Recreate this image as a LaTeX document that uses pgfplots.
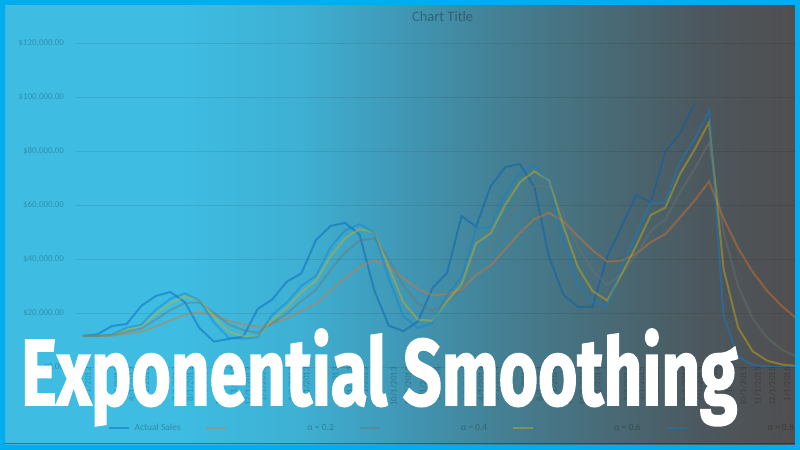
\documentclass[border=0pt]{standalone}
\usepackage{fontspec}
\setmainfont{Carlito}
\newfontfamily\bigfont{Fira Sans}[FakeBold=2]
\usepackage{pgfplots}
\pgfplotsset{compat=1.18}
\usepackage{pgfplotstable}

\definecolor{frameblue}{RGB}{0,174,239}
\definecolor{g0}{RGB}{62,188,226}
\definecolor{g1}{RGB}{62,176,211}
\definecolor{g2}{RGB}{64,152,182}
\definecolor{g3}{RGB}{68,128,148}
\definecolor{g4}{RGB}{72,108,120}
\definecolor{g5}{RGB}{76,88,94}
\definecolor{g6}{RGB}{80,78,80}
\pgfdeclarehorizontalshading{bgshade}{100bp}{color(0bp)=(g0); color(25bp)=(g0); color(36.25bp)=(g0); color(43.75bp)=(g1); color(50bp)=(g2); color(56.25bp)=(g3); color(62.5bp)=(g4); color(68.75bp)=(g5); color(74.5bp)=(g6); color(100bp)=(g6)}

\definecolor{cActual}{RGB}{0,90,180}
\definecolor{cA2}{RGB}{230,115,40}
\definecolor{cA4}{RGB}{110,115,112}
\definecolor{cA6}{RGB}{215,180,10}
\definecolor{cA8}{RGB}{10,130,215}

\pgfplotstableread{
i A
0 11500
1 12100
2 15200
3 15900
4 22600
5 26300
6 27800
7 24000
8 14400
9 9400
10 10400
11 11200
12 21500
13 25000
14 31600
15 34700
16 47000
17 52200
18 53400
19 49000
20 28500
21 15300
22 13300
23 16800
24 29200
25 34800
26 55900
27 52000
28 67000
29 74000
30 75200
31 66800
32 40900
33 26700
34 22300
35 22300
36 40900
37 52000
38 63800
39 60900
40 79700
41 86500
42 97400
}\actual

\pgfplotstableread{
i a2 a4 a6 a8
0 11500 11500 11500 11500
1 11500 11500 11500 11500
2 11620 11740 11860 11980
3 12336 13124 13864 14556
4 13049 14234 15086 15631
5 14959 17580 19594 21206
6 17227 21068 23618 25281
7 19342 23761 26127 27296
8 20274 23857 24851 24659
9 19099 20074 18580 16452
10 17159 15804 13072 10810
11 15807 13642 11469 10482
12 14886 12665 11308 11056
13 16209 16199 17423 19411
14 17967 19719 21969 23882
15 20694 24471 27748 30056
16 23495 28563 31919 33771
17 28196 35938 40968 44354
18 32997 42443 47707 50631
19 37078 46826 51123 52846
20 39462 47696 49849 49769
21 37270 40018 37040 32754
22 32876 30131 23996 18791
23 28961 23399 17578 14398
24 26529 20759 17111 16320
25 27063 24135 24364 26624
26 28610 28401 30626 33165
27 34068 39401 45790 51353
28 37654 44441 49516 51871
29 43523 53465 60006 63974
30 49618 61679 68402 71995
31 54734 67087 72481 74559
32 57147 66972 69072 68352
33 53898 56543 52169 46390
34 48458 44606 36888 30638
35 43226 35684 28135 23968
36 39041 30330 24634 22634
37 39413 34558 34394 37247
38 41930 41535 44958 49049
39 46304 50441 56263 60850
40 49223 54625 59045 60890
41 55318 64655 71438 75938
42 61554 73393 80475 84388
43 68723 82996 90630 94798
44 54978 49798 36252 18960
45 43983 29879 14501 3792
46 35186 17927 5800 758
47 28149 10756 2320 152
48 22519 6454 928 30
49 18015 3872 371 6
}\forecast

\begin{document}
\begin{tikzpicture}[x=1bp,y=1bp]
\path[use as bounding box] (0,0) rectangle (800,450);
\begin{scope}
\clip (0,0) rectangle (800,450);
\shade[shading=bgshade] (0,0) rectangle (800,450);
\begin{axis}[
  at={(75.7bp,83bp)}, anchor=south west,
  scale only axis, width=719.3bp, height=324bp,
  xmin=-0.5, xmax=48.903, ymin=0, ymax=120000,
  scaled y ticks=false,
  axis line style={draw=none},
  major tick length=0pt,
  ymajorgrids,
  grid style={black, opacity=0.08, line width=0.8bp},
  ytick={0,20000,40000,60000,80000,100000,120000},
  yticklabels={{\$0.00},{\$20,000.00},{\$40,000.00},{\$60,000.00},{\$80,000.00},{\$100,000.00},{\$120,000.00}},
  xtick={0,...,48},
  xticklabels={1/1/2012,2/1/2012,3/1/2012,4/1/2012,5/1/2012,6/1/2012,7/1/2012,8/1/2012,9/1/2012,10/1/2012,11/1/2012,12/1/2012,1/1/2013,2/1/2013,3/1/2013,4/1/2013,5/1/2013,6/1/2013,7/1/2013,8/1/2013,9/1/2013,10/1/2013,11/1/2013,12/1/2013,1/1/2014,2/1/2014,3/1/2014,4/1/2014,5/1/2014,6/1/2014,7/1/2014,8/1/2014,9/1/2014,10/1/2014,11/1/2014,12/1/2014,1/1/2015,2/1/2015,3/1/2015,4/1/2015,5/1/2015,6/1/2015,7/1/2015,8/1/2015,9/1/2015,10/1/2015,11/1/2015,12/1/2015,1/1/2016},
  tick label style={font=\fontsize{9}{10}\selectfont, text opacity=0.22},
  yticklabel style={anchor=east, inner sep=0pt, xshift=-11.5bp},
  xticklabel style={rotate=90, anchor=east, inner sep=0pt, yshift=-5bp},
  title={Chart Title},
  title style={font=\fontsize{14.5}{16}\selectfont, text opacity=0.3, at={(axis description cs:0.5,1)}, anchor=center, xshift=7.3bp, yshift=20bp},
  legend columns=5,
  legend style={at={(axis description cs:0.044,-0.1883)}, anchor=west, draw=none, fill=none, inner sep=0pt,
    font=\fontsize{9.5}{11}\selectfont, text opacity=0.25,
    nodes={inner sep=0pt},
    /tikz/every odd column/.append style={column sep=5bp},
    /tikz/every even column/.append style={column sep=25bp}},
  legend image code/.code={\draw[#1] (0bp,0bp) -- (20bp,0bp);},
  every axis plot/.append style={line width=2bp, draw opacity=0.42, mark=none},
]
\addplot[cActual] table[x=i, y=A] {\actual};
\addlegendentry{Actual Sales}
\addplot[cA2] table[x=i, y=a2] {\forecast};
\addlegendentry{\hspace*{75bp}α = 0.2}
\addplot[cA4] table[x=i, y=a4] {\forecast};
\addlegendentry{\hspace*{75bp}α = 0.4}
\addplot[cA6] table[x=i, y=a6] {\forecast};
\addlegendentry{\hspace*{75bp}α = 0.6}
\addplot[cA8] table[x=i, y=a8] {\forecast};
\addlegendentry{\hspace*{75bp}α = 0.8}
\end{axis}
\node[anchor=base west, inner sep=0pt, text=white] at (21,45) {\scalebox{0.72}[1]{\bigfont\bfseries\fontsize{94}{100}\selectfont Exponential Smoothing}};
\draw[black, opacity=0.35, line width=1.2bp] (5,6.5) -- (795,6.5);
\end{scope}
\fill[frameblue, even odd rule] (0,0) rectangle (800,450) (5,5) rectangle (795,445);
\end{tikzpicture}
\end{document}
